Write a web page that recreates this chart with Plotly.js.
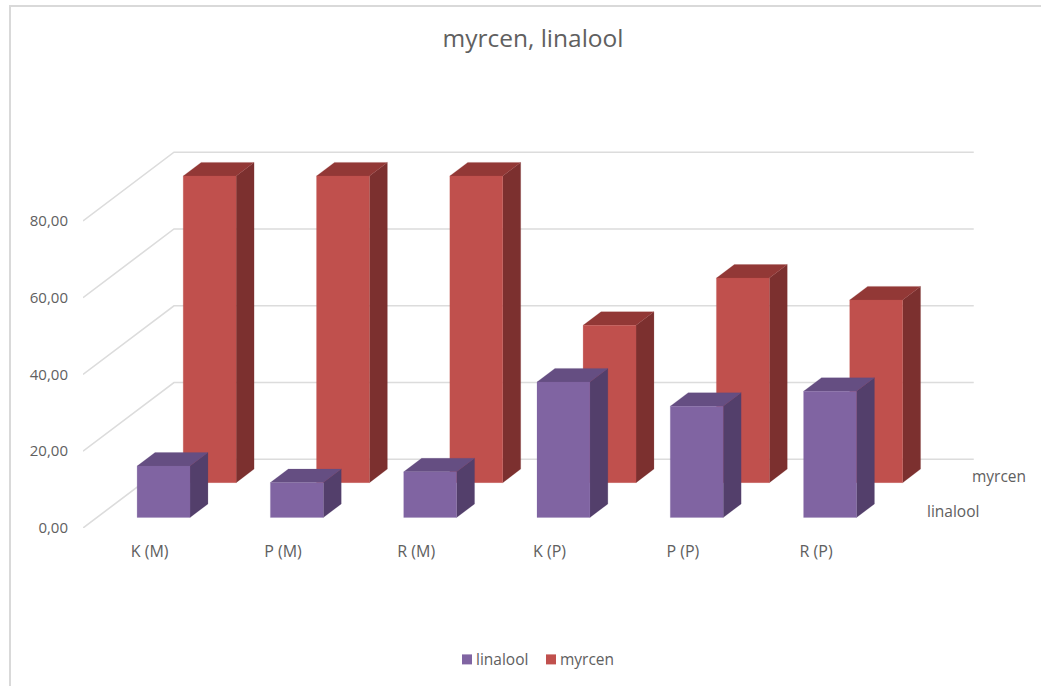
<!DOCTYPE html>
<html>
<head>
<meta charset="utf-8">
<script src="https://cdn.plot.ly/plotly-3.0.1.min.js"></script>
<style>
html,body{margin:0;padding:0;background:#fff;overflow:hidden}
#chart{position:absolute;left:0;top:0;width:1041px;height:686px}
#frame{position:absolute;left:9px;top:5px;right:0;bottom:0;border-left:2px solid #d9d9d9;border-top:2px solid #d9d9d9;pointer-events:none}
</style>
</head>
<body>
<div id="chart"></div>
<div id="frame"></div>
<script>
var categories = ['K (M)', 'P (M)', 'R (M)', 'K (P)', 'P (P)', 'R (P)'];
var linalool = [13.4, 9.1, 11.9, 35.3, 29.0, 32.9];
var myrcen = [79.9, 79.9, 79.9, 41.0, 53.3, 47.6];
var gridValues = [0, 20, 40, 60, 80];
var gridLabels = ['0,00', '20,00', '40,00', '60,00', '80,00'];
var seriesNames = ['linalool', 'myrcen'];

// oblique projection of the depth axis onto the 2D axes
var DX = 0.6825, DY = 17.9;       // shift for full chart depth, in axis units
var BAR_W = 0.397, BAR_D = 0.197; // bar width (categories) and depth (fraction)
function proj(i, d, v) { return [i + d * DX, v + d * DY]; }

function poly(pts, o) {
  pts.concat([pts[0]]).forEach(function (p) { o.x.push(p[0]); o.y.push(p[1]); });
  o.x.push(null); o.y.push(null);
}
function faces(values, depthFront, colors) {
  var front = {x: [], y: []}, side = {x: [], y: []}, top = {x: [], y: []};
  values.forEach(function (v, k) {
    var l = k + 0.5 - BAR_W / 2, r = l + BAR_W, d0 = depthFront, d1 = d0 + BAR_D;
    poly([proj(l, d0, 0), proj(r, d0, 0), proj(r, d0, v), proj(l, d0, v)], front);
    poly([proj(r, d0, 0), proj(r, d1, 0), proj(r, d1, v), proj(r, d0, v)], side);
    poly([proj(l, d0, v), proj(r, d0, v), proj(r, d1, v), proj(l, d1, v)], top);
  });
  function tr(o, c) {
    return {x: o.x, y: o.y, type: 'scatter', mode: 'lines', fill: 'toself', fillcolor: c,
      line: {color: c, width: 0.2}, hoverinfo: 'skip', showlegend: false};
  }
  return [tr(side, colors[1]), tr(top, colors[2]), tr(front, colors[0])];
}

var traces = [];
gridValues.forEach(function (v) {
  var a = proj(0, 0, v), b = proj(0, 1, v), c = proj(categories.length, 1, v);
  traces.push({x: [a[0], b[0], c[0]], y: [a[1], b[1], c[1]], type: 'scatter', mode: 'lines',
    line: {color: '#dcdcdc', width: 1.6}, hoverinfo: 'skip', showlegend: false});
});
traces = traces.concat(faces(myrcen, 0.66, ['#c0504d', '#7c302f', '#923836']));
traces = traces.concat(faces(linalool, 0.153, ['#8064a2', '#533f6b', '#654e82']));
// legend entries
traces.push({x: [null], y: [null], type: 'scatter', mode: 'markers', name: seriesNames[0],
  marker: {symbol: 'square', size: 10, color: '#8064a2'}});
traces.push({x: [null], y: [null], type: 'scatter', mode: 'markers', name: seriesNames[1],
  marker: {symbol: 'square', size: 10, color: '#c0504d'}});

var seriesLabelPos = [proj(categories.length, 0.25, 0), proj(categories.length, 0.75, 0)];
var FONT = '"Open Sans", sans-serif';
var TXT = '#606060';
var layout = {
  width: 1041, height: 686,
  margin: {l: 83, r: 0, t: 100, b: 158},
  paper_bgcolor: 'rgba(0,0,0,0)', plot_bgcolor: 'rgba(0,0,0,0)',
  font: {family: FONT, color: TXT, size: 14},
  title: {text: 'myrcen, linalool', font: {size: 24.5, color: TXT, family: FONT},
    x: 533 / 1041, xanchor: 'center', xref: 'container', y: 1 - 38 / 686, yanchor: 'middle', yref: 'container'},
  xaxis: {range: [0, 7.187], showgrid: false, zeroline: false, showline: false,
    tickmode: 'array', tickvals: categories.map(function (c, i) { return i + 0.5; }), ticktext: categories,
    ticks: 'outside', ticklen: 9, tickcolor: 'rgba(0,0,0,0)', tickfont: {size: 16}, fixedrange: true},
  yaxis: {range: [0, 111.5], showgrid: false, zeroline: false, showline: false,
    tickmode: 'array', tickvals: gridValues, ticktext: gridLabels,
    ticks: 'outside', ticklen: 11, tickcolor: 'rgba(0,0,0,0)', tickfont: {size: 15}, fixedrange: true},
  showlegend: true,
  legend: {orientation: 'h', x: 0.474, xanchor: 'center', y: -0.308, yanchor: 'middle',
    font: {size: 15.5, color: TXT}, itemwidth: 30, bgcolor: 'rgba(0,0,0,0)'},
  annotations: seriesNames.map(function (n, k) {
    return {x: seriesLabelPos[k][0], y: seriesLabelPos[k][1], xref: 'x', yref: 'y', text: n,
      showarrow: false, xanchor: 'left', yanchor: 'middle', xshift: 19, font: {size: 15.5, color: TXT}};
  })
};
Plotly.newPlot('chart', traces, layout, {displayModeBar: false, staticPlot: true}).then(function () {
  // tighten the legend: swatch close to its label, as in the reference
  var swatchLeft = [462, 546];
  document.querySelectorAll('.legend .traces').forEach(function (g, k) {
    var p = g.querySelector('.legendpoints path');
    var m = /translate\(([-\d.]+)[ ,]+([-\d.]+)\)/.exec(g.getAttribute('transform'));
    if (p && m) {
      var dx = swatchLeft[k] - p.getBoundingClientRect().left;
      g.setAttribute('transform', 'translate(' + (parseFloat(m[1]) + dx) + ',' + m[2] + ')');
    }
    var t = g.querySelector('.legendtext');
    if (t) t.setAttribute('x', parseFloat(t.getAttribute('x')) - 11);
  });
  var clip = document.querySelector('.legend .scrollbox');
  if (clip) clip.removeAttribute('clip-path');
});
</script>
</body>
</html>
